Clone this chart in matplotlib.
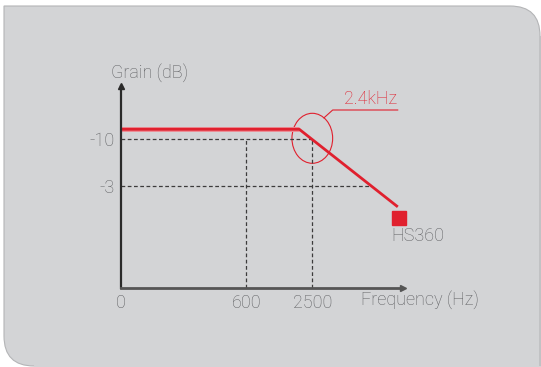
import numpy as np
import matplotlib
matplotlib.use("Agg")
import matplotlib.pyplot as plt
from matplotlib.path import Path
from matplotlib.patches import PathPatch, Ellipse

# schematic data (axis units ~ pixels from origin)
freq_labels = ['0', '600', '2500']
freq_pos = [0, 124.9, 191]
gain_labels = ['-10', '-3']
gain_pos = [148.7, 102]
curve_x = [0, 178, 275.4]
curve_y = [158.7, 158.7, 82]
knee_label = '2.4kHz'
model_name = 'HS360'

W, H = 541, 367
RED = '#e0202e'
GREY_TXT = '#5e5f62'
FS = 13

plt.rcParams['font.family'] = ['Roboto', 'DejaVu Sans']
plt.rcParams['font.weight'] = 'light'
fig = plt.figure(figsize=(W / 100, H / 100), dpi=100)
fig.patch.set_facecolor('white')

# background panel with two rounded corners (pixel coords, y down)
r = 30
pts = [(4, 6), (540 - r, 6), (540, 6), (540, 6 + r), (548, 6 + r), (548, 375),
       (4 + r, 375), (4 + r, 366), (4, 366), (4, 366 - r), (4, 6)]
codes = [Path.MOVETO, Path.LINETO, Path.CURVE3, Path.CURVE3, Path.LINETO, Path.LINETO,
         Path.LINETO, Path.LINETO, Path.CURVE3, Path.CURVE3, Path.CLOSEPOLY]
pts = [(x / W, (H - y) / H) for x, y in pts]
fig.add_artist(PathPatch(Path(pts, codes), transform=fig.transFigure,
                         facecolor='#d3d4d6', edgecolor='none', zorder=-10))
# thin outline on the visible edges only
ol = [(540, 366), (540, 6 + r), (540, 6), (540 - r, 6), (4, 6), (4, 366 - r), (4, 366), (4 + r, 366)]
oc = [Path.MOVETO, Path.LINETO, Path.CURVE3, Path.CURVE3, Path.LINETO, Path.LINETO,
      Path.CURVE3, Path.CURVE3]
ol = [(x / W, (H - y) / H) for x, y in ol]
fig.add_artist(PathPatch(Path(ol, oc), transform=fig.transFigure, fill=False,
                         edgecolor='#b4b5b7', lw=0.8, zorder=-9))

# axes placed by pixel box
x0, x1, y0, y1 = 121.3, 402.7, 288, 86
ax = fig.add_axes([x0 / W, (H - y0) / H, (x1 - x0) / W, (y0 - y1) / H])
ax.set_zorder(1)
ax.set_facecolor('none')
ax.set_xlim(0, x1 - x0)
ax.set_ylim(0, y0 - y1)
for s in ['top', 'right']:
    ax.spines[s].set_visible(False)
ax.spines['left'].set_color('#2a2a2a')
ax.spines['left'].set_linewidth(1.6)
ax.spines['bottom'].set_color('#555555')
ax.spines['bottom'].set_linewidth(2)
ax.plot(1, 0, '>', ms=4.5, color='#555555', transform=ax.transAxes, clip_on=False)
ax.plot(0, 1, '^', ms=4.5, color='#2a2a2a', transform=ax.transAxes, clip_on=False)

ax.set_xticks(freq_pos, freq_labels)
ax.set_yticks(gain_pos, gain_labels)
ax.tick_params(length=0, labelsize=FS, labelcolor=GREY_TXT)
ax.tick_params(axis='x', pad=4.5)
ax.tick_params(axis='y', pad=4.5)

# guide lines
dash = dict(color='#3c3c3c', lw=0.9, ls=(0, (3, 2)))
end3 = np.interp(gain_pos[1], curve_y[::-1], curve_x[::-1])
ax.plot([0, freq_pos[2]], [gain_pos[0]] * 2, **dash)
ax.plot([0, end3], [gain_pos[1]] * 2, **dash)
for fp in freq_pos[1:]:
    ax.plot([fp, fp], [0, gain_pos[0]], **dash)

# response curve
ax.plot(curve_x[:2], curve_y[:2], color='#ea8f97', lw=3.6, solid_capstyle='butt')
ax.plot(curve_x, curve_y, color=RED, lw=2, solid_joinstyle='round')
ax.plot(curve_x[-1] + 2.5, 70, 's', ms=10.5, color=RED, clip_on=False)

# knee marker + callout
ew, eh = 40.7, 50
ax.add_patch(Ellipse((freq_pos[2], gain_pos[0] + 1), ew, eh, fill=False,
                     ec=RED, lw=0.8, clip_on=False))
t = np.deg2rad(55)
sx = freq_pos[2] + ew / 2 * np.cos(t)
sy = gain_pos[0] + 1 + eh / 2 * np.sin(t)
ax.plot([sx, 211.4, 276.4], [sy, 178, 178], color=RED, lw=0.8, clip_on=False)
ax.text(249, 189.5, knee_label, color=RED, fontsize=FS, ha='center', va='center')

ax.text(269.7, 52, model_name, color=GREY_TXT, fontsize=FS, ha='left', va='center')
ax.text(-10.6, 215, 'Grain (dB)', color=GREY_TXT, fontsize=FS,
        ha='left', va='center', clip_on=False)
ax.text(239.4, -12, 'Frequency (Hz)', color=GREY_TXT, fontsize=FS,
        ha='left', va='center', clip_on=False)

fig.savefig('out.png', dpi=100, facecolor='white')
